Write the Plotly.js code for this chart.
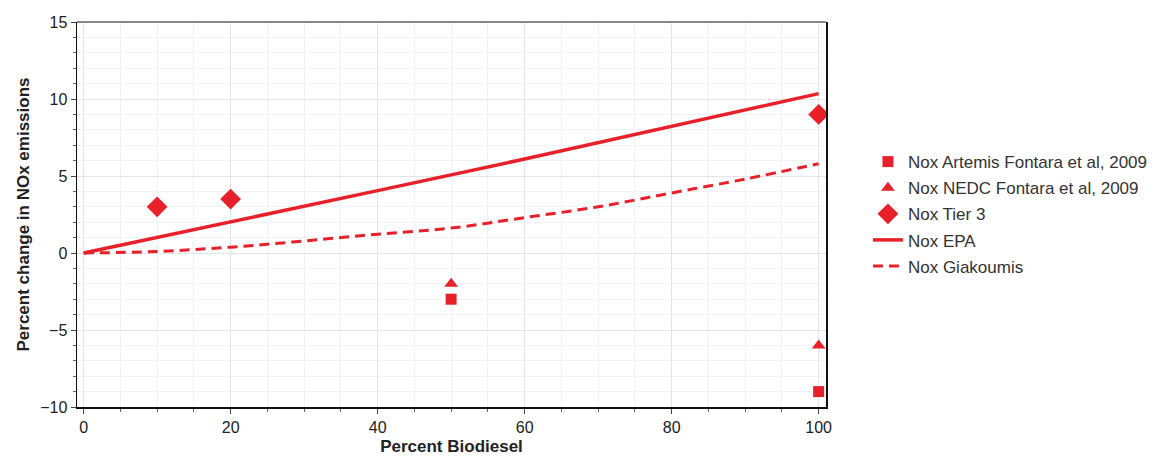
<!DOCTYPE html>
<html>
<head>
<meta charset="utf-8">
<script src="https://cdn.plot.ly/plotly-3.0.1.min.js"></script>
<style>html,body{margin:0;padding:0;background:#fff;}#chart{width:1166px;height:456px;}</style>
</head>
<body>
<div id="chart"></div>
<script>
const artemisX = [50, 100];
const artemisY = [-3, -9];
const nedcX = [50, 100];
const nedcY = [-2, -6];
const tier3X = [10, 20, 100];
const tier3Y = [3, 3.5, 9];
const epaX = [0, 20, 40, 60, 80, 100];
const epaY = [0, 2.0, 4.05, 6.1, 8.2, 10.35];
const giakX = [0, 10, 20, 30, 40, 50, 60, 70, 80, 90, 100];
const giakY = [0, 0.1, 0.38, 0.78, 1.22, 1.62, 2.3, 3.0, 3.9, 4.8, 5.8];

const red = '#e8202a';
const traces = [
  {x: artemisX, y: artemisY, name: 'Nox Artemis Fontara et al, 2009', mode: 'markers', type: 'scatter', legendgroup: 'a',
   marker: {symbol: 'square', size: 11, color: red}},
  {x: nedcX, y: nedcY, name: 'Nox NEDC Fontara et al, 2009', mode: 'markers', type: 'scatter', legendgroup: 'b',
   marker: {symbol: 'triangle-up', size: 12, color: red}},
  {x: tier3X, y: tier3Y, name: 'Nox Tier 3', mode: 'markers', type: 'scatter', legendgroup: 'c',
   marker: {symbol: 'diamond', size: 16, color: red}},
  {x: epaX, y: epaY, name: 'Nox EPA', mode: 'lines', type: 'scatter', legendgroup: 'd',
   line: {color: red, width: 3.5}},
  {x: giakX, y: giakY, name: 'Nox Giakoumis', mode: 'lines', type: 'scatter', legendgroup: 'e',
   line: {shape: 'spline', color: red, width: 3, dash: '10px,6px'}}
];

const layout = {
  width: 1166, height: 456,
  margin: {l: 77, r: 340, t: 22, b: 49},
  paper_bgcolor: '#fff', plot_bgcolor: '#fff',
  font: {family: 'Liberation Sans, Arial, sans-serif', size: 16, color: '#222'},
  showlegend: true,
  legend: {x: 1.056, y: 0.683, xanchor: 'left', yanchor: 'top', font: {size: 17, color: '#333'},
           tracegroupgap: 1, itemsizing: 'trace', bgcolor: 'rgba(0,0,0,0)'},
  xaxis: {
    range: [-0.9, 101.0], tickvals: [0, 20, 40, 60, 80, 100], ticks: 'outside', ticklen: 5, tickcolor: '#444',
    showline: true, linecolor: '#111', linewidth: 1.5, zeroline: false,
    showgrid: true, gridcolor: '#e4e4e4', gridwidth: 1,
    minor: {dtick: 5, tick0: 0, showgrid: true, gridcolor: '#f2f2f2', ticks: 'outside', ticklen: 3, tickcolor: '#666'},
    title: {text: '<b>Percent Biodiesel</b>', font: {size: 17, color: '#222'}, standoff: 5},
    tickfont: {size: 16, color: '#222'}
  },
  yaxis: {
    range: [-10, 15], tickvals: [-10, -5, 0, 5, 10, 15], ticktext: ['\u221210', '\u22125', '0', '5', '10', '15'],
    ticks: 'outside', ticklen: 5, tickcolor: '#444',
    showline: true, mirror: true, linecolor: '#111', linewidth: 1.5, zeroline: false,
    showgrid: true, gridcolor: '#e4e4e4', gridwidth: 1,
    minor: {dtick: 1, showgrid: true, gridcolor: '#f2f2f2', ticks: 'outside', ticklen: 3, tickcolor: '#666'},
    title: {text: '<b>Percent change in NOx emissions</b>', font: {size: 17, color: '#222'}, standoff: 6},
    tickfont: {size: 16, color: '#222'}
  },
  shapes: [
    {type: 'line', xref: 'paper', yref: 'paper', x0: 0, x1: 1, y0: 1, y1: 1, line: {color: '#888', width: 2}}
  ]
};

Plotly.newPlot('chart', traces, layout, {displayModeBar: false, staticPlot: true});
</script>
</body>
</html>
